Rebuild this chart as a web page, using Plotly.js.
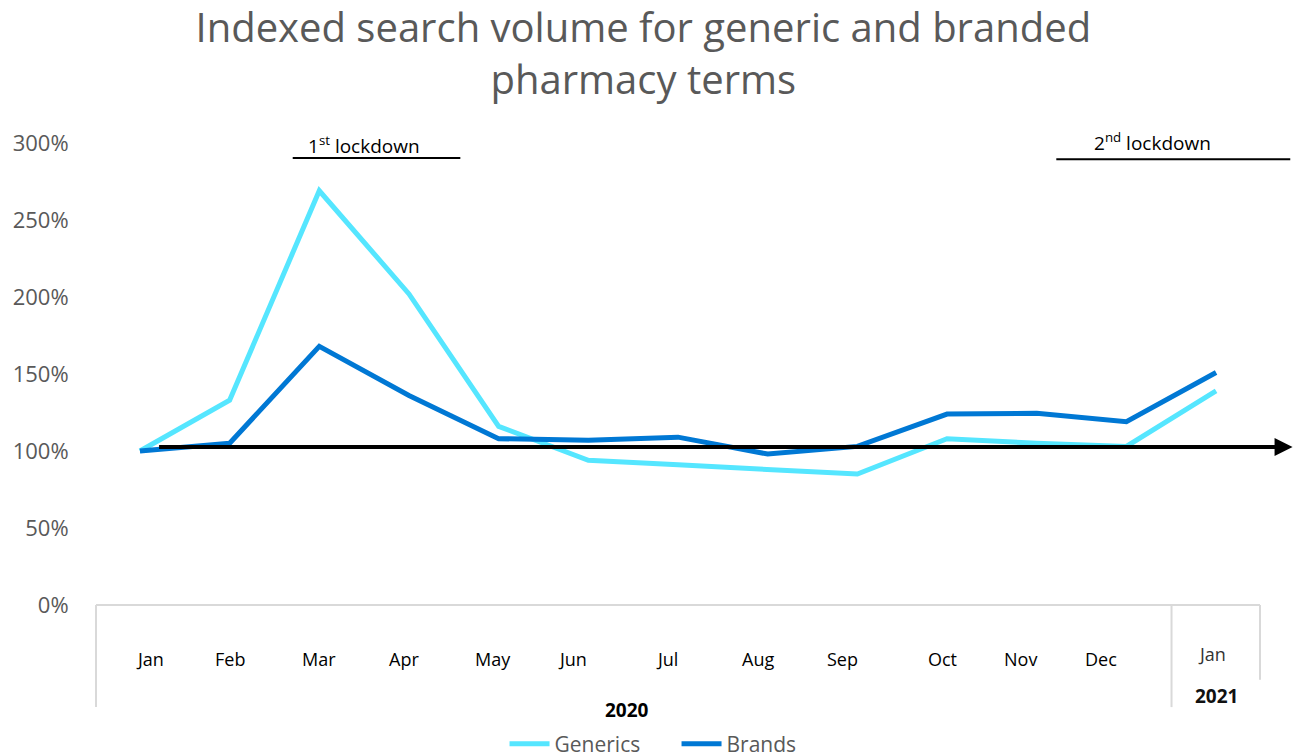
<!DOCTYPE html>
<html>
<head>
<meta charset="utf-8">
<script src="https://cdn.plot.ly/plotly-3.0.1.min.js"></script>
<style>html,body{margin:0;padding:0;background:#fff;}#chart{width:1297px;height:755px;}</style>
</head>
<body>
<div id="chart"></div>
<script>
// ---- data ----
var months = ["Jan","Feb","Mar","Apr","May","Jun","Jul","Aug","Sep","Oct","Nov","Dec","Jan"];
var generics = [100, 133, 269, 202, 116, 94, 91, 88, 85, 108, 105, 103, 139];
var brands   = [100, 105, 168, 136, 108, 107, 109, 98, 103, 124, 124.5, 119, 151];
var yTicks = [0, 50, 100, 150, 200, 250, 300];
var yTickText = ["0%","50%","100%","150%","200%","250%","300%"];
var yearLabels = ["2020","2021"];
// label layout (category-unit positions of the month labels under the axis)
var monthLabelPos = [0.11, 1.0, 2.0, 2.94, 3.94, 4.82, 5.88, 6.89, 7.83, 8.95, 9.82, 10.72, 11.95];

var xIdx = months.map(function(_, i){ return i; });

var traces = [
  {x: xIdx, y: generics, name: "Generics", type: "scatter", mode: "lines",
   line: {color: "#55e6ff", width: 5}, cliponaxis: false},
  {x: xIdx, y: brands, name: "Brands", type: "scatter", mode: "lines",
   line: {color: "#0078d4", width: 5}, cliponaxis: false}
];

var annotations = [];
months.forEach(function(m, i){
  var last = i === months.length - 1;
  annotations.push({
    x: monthLabelPos[i], xref: "x", y: last ? -0.106 : -0.117, yref: "paper",
    text: m, showarrow: false, xanchor: "center", yanchor: "middle",
    font: {family: "Open Sans, sans-serif", size: 18, color: last ? "#333333" : "#000000"}
  });
});
annotations.push({x: 0.456, xref: "paper", y: -0.227, yref: "paper", text: "<b>" + yearLabels[0] + "</b>",
  showarrow: false, xanchor: "center", yanchor: "middle", font: {family: "Open Sans, sans-serif", size: 19, color: "#000"}});
annotations.push({x: 0.963, xref: "paper", y: -0.197, yref: "paper", text: "<b>" + yearLabels[1] + "</b>",
  showarrow: false, xanchor: "center", yanchor: "middle", font: {family: "Open Sans, sans-serif", size: 19, color: "#111"}});
annotations.push({x: 0.230, xref: "paper", y: 0.9957, yref: "paper", text: "1<sup>st</sup> lockdown",
  showarrow: false, xanchor: "center", yanchor: "middle", font: {family: "Open Sans, sans-serif", size: 19, color: "#000"}});
annotations.push({x: 0.908, xref: "paper", y: 1.002, yref: "paper", text: "2<sup>nd</sup> lockdown",
  showarrow: false, xanchor: "center", yanchor: "middle", font: {family: "Open Sans, sans-serif", size: 19, color: "#000"}});
// black arrow near the 100% level
annotations.push({x: 1.028, xref: "paper", y: 102.6, yref: "y", ax: -1135, ay: 0, axref: "pixel", ayref: "pixel",
  text: "", showarrow: true, arrowhead: 2, arrowsize: 0.9, arrowwidth: 4, arrowcolor: "#000"});

var grey = "#d9d9d9";
var shapes = [
  {type: "line", xref: "paper", yref: "paper", x0: 0, x1: 1, y0: 0, y1: 0, line: {color: grey, width: 2}},
  {type: "line", xref: "paper", yref: "paper", x0: 0, x1: 0, y0: 0, y1: -0.221, line: {color: grey, width: 2}},
  {type: "line", xref: "paper", yref: "paper", x0: 0.924, x1: 0.924, y0: 0, y1: -0.221, line: {color: grey, width: 2}},
  {type: "line", xref: "paper", yref: "paper", x0: 1, x1: 1, y0: 0, y1: -0.162, line: {color: grey, width: 2}},
  {type: "line", xref: "paper", yref: "paper", x0: 0.169, x1: 0.313, y0: 0.9675, y1: 0.9675, line: {color: "#000", width: 2}},
  {type: "line", xref: "paper", yref: "paper", x0: 0.825, x1: 1.026, y0: 0.965, y1: 0.965, line: {color: "#000", width: 2}}
];

var layout = {
  width: 1297, height: 755, autosize: false,
  margin: {l: 96, r: 37, t: 143, b: 150},
  paper_bgcolor: "#ffffff", plot_bgcolor: "#ffffff",
  title: {text: "Indexed search volume for generic and branded<br>pharmacy terms",
    x: 0.496, xref: "container", xanchor: "center", y: 0.944, yref: "container", yanchor: "top",
    font: {family: "Open Sans, sans-serif", size: 40, color: "#595959"}, automargin: false},
  xaxis: {range: [-0.49, 12.49], showticklabels: false, showgrid: false, zeroline: false, showline: false, ticks: ""},
  yaxis: {range: [0, 300], tickvals: yTicks, ticktext: yTickText, showgrid: false, zeroline: false, showline: false,
    ticks: "outside", ticklen: 22, tickcolor: "rgba(0,0,0,0)",
    tickfont: {family: "Open Sans, sans-serif", size: 22, color: "#595959"}},
  showlegend: true,
  legend: {orientation: "h", x: 0.389, xref: "container", xanchor: "left", y: 0.0146, yref: "container", yanchor: "middle",
    font: {family: "Open Sans, sans-serif", size: 21, color: "#595959"}, itemwidth: 40,
    entrywidth: 117, entrywidthmode: "pixels"},
  annotations: annotations,
  shapes: shapes
};

Plotly.newPlot("chart", traces, layout, {displayModeBar: false, staticPlot: true});
</script>
</body>
</html>
